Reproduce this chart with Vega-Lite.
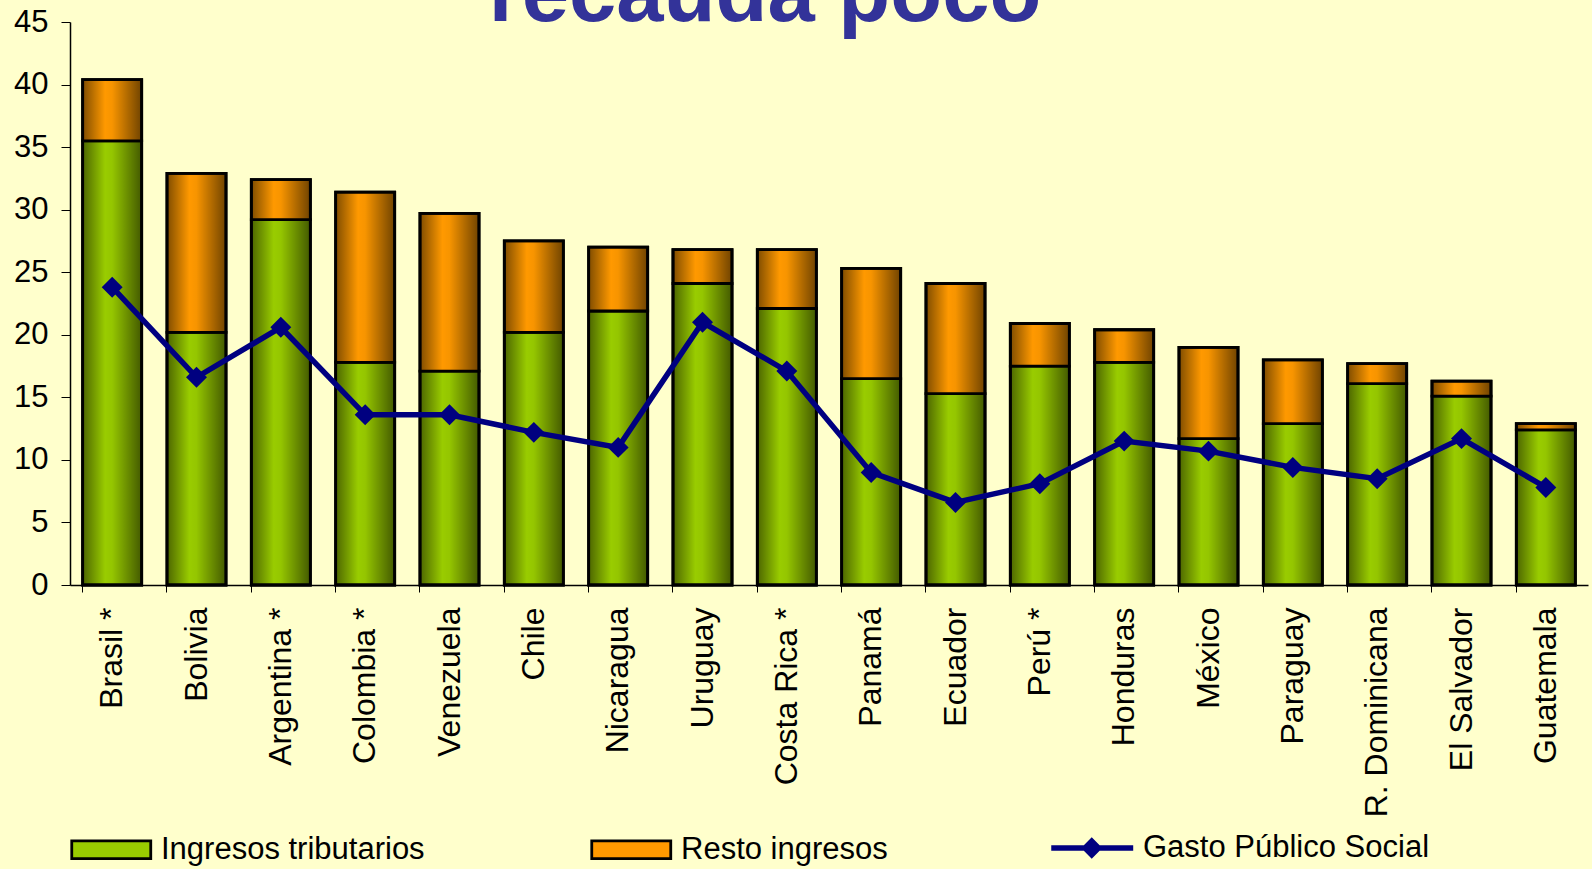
{
  "$schema": "https://vega.github.io/schema/vega-lite/v6.json",
  "width": 1518,
  "height": 563,
  "autosize": {"type": "none"},
  "padding": {"top": 22, "left": 70, "right": 4, "bottom": 284},
  "background": "#FFFFCC",
  "title": {
    "text": "recauda poco",
    "font": "Liberation Sans",
    "fontSize": 85,
    "fontWeight": "bold",
    "color": "#333399",
    "anchor": "middle",
    "frame": "group",
    "baseline": "alphabetic",
    "offset": 0,
    "dx": -64,
    "dy": 100
  },
  "config": {
    "view": {"stroke": null},
    "axis": {"labelFont": "Liberation Sans", "labelColor": "#000000", "grid": false, "title": null},
    "legend": {"labelFont": "Liberation Sans", "labelFontSize": 31, "labelColor": "#000000", "labelLimit": 0, "padding": 0}
  },
  "data": {
    "values": [
      {"pais": "Brasil *", "trib": 35.5, "total": 40.4, "gasto": 23.8},
      {"pais": "Bolivia", "trib": 20.2, "total": 32.9, "gasto": 16.6},
      {"pais": "Argentina *", "trib": 29.2, "total": 32.4, "gasto": 20.6},
      {"pais": "Colombia *", "trib": 17.8, "total": 31.4, "gasto": 13.6},
      {"pais": "Venezuela", "trib": 17.1, "total": 29.7, "gasto": 13.6},
      {"pais": "Chile", "trib": 20.2, "total": 27.5, "gasto": 12.2},
      {"pais": "Nicaragua", "trib": 21.9, "total": 27.0, "gasto": 11.0},
      {"pais": "Uruguay", "trib": 24.1, "total": 26.8, "gasto": 21.0},
      {"pais": "Costa Rica *", "trib": 22.1, "total": 26.8, "gasto": 17.1},
      {"pais": "Panamá", "trib": 16.5, "total": 25.3, "gasto": 9.0},
      {"pais": "Ecuador", "trib": 15.3, "total": 24.1, "gasto": 6.6},
      {"pais": "Perú *", "trib": 17.5, "total": 20.9, "gasto": 8.1},
      {"pais": "Honduras", "trib": 17.8, "total": 20.4, "gasto": 11.5},
      {"pais": "México", "trib": 11.7, "total": 19.0, "gasto": 10.7},
      {"pais": "Paraguay", "trib": 12.9, "total": 18.0, "gasto": 9.4},
      {"pais": "R. Dominicana", "trib": 16.1, "total": 17.7, "gasto": 8.5},
      {"pais": "El Salvador", "trib": 15.1, "total": 16.3, "gasto": 11.7},
      {"pais": "Guatemala", "trib": 12.4, "total": 12.9, "gasto": 7.8}
    ]
  },
  "encoding": {
    "x": {
      "field": "pais",
      "type": "nominal",
      "sort": null,
      "scale": {"paddingInner": 0.3, "paddingOuter": 0.15},
      "axis": {
        "labelAngle": -90,
        "labelFontSize": 32,
        "labelLimit": 0,
        "labelPadding": 15,
        "domainColor": "#000000",
        "domainWidth": 1.5,
        "tickColor": "#000000",
        "tickSize": 7,
        "bandPosition": 0,
        "labelOffset": 0
      }
    }
  },
  "layer": [
    {
      "layer": [
        {
          "mark": {"type": "bar", "stroke": "#000000", "strokeWidth": 2.8},
          "encoding": {
            "y": {
              "field": "trib",
              "type": "quantitative",
              "scale": {"domain": [0, 45], "nice": false},
              "axis": {
                "values": [0, 5, 10, 15, 20, 25, 30, 35, 40, 45],
                "labelFontSize": 31,
                "labelPadding": 13,
                "domainColor": "#000000",
                "domainWidth": 1.5,
                "tickColor": "#000000",
                "tickSize": 9
              }
            },
            "color": {
              "datum": "Ingresos tributarios",
              "type": "nominal",
              "scale": {"domain": ["Ingresos tributarios", "Resto ingresos"], "range": ["#99cc00", "#ff9900"]},
              "legend": {
                "orient": "none",
                "legendX": 0,
                "legendY": 806,
                "direction": "horizontal",
                "title": null,
                "symbolType": "M-1,-0.45H3V0.45H-1Z",
                "symbolSize": 1560,
                "symbolStrokeColor": "#000000",
                "symbolStrokeWidth": 2.8,
                "symbolOpacity": 1,
                "labelOffset": 48,
                "columnPadding": 161
              }
            }
          }
        },
        {
          "mark": {"type": "bar", "stroke": "#000000", "strokeWidth": 2.8},
          "encoding": {
            "y": {"field": "trib", "type": "quantitative"},
            "y2": {"field": "total"},
            "color": {"datum": "Resto ingresos", "type": "nominal"}
          }
        },
        {
          "mark": {
            "type": "bar",
            "stroke": "#000000",
            "strokeWidth": 2.8,
            "fill": {"gradient": "linear", "x1": 0, "y1": 0, "x2": 1, "y2": 0,
              "stops": [
                {"offset": 0, "color": "rgba(0,0,0,0.5)"},
                {"offset": 0.38, "color": "rgba(0,0,0,0)"},
                {"offset": 0.5, "color": "rgba(0,0,0,0.03)"},
                {"offset": 1, "color": "rgba(0,0,0,0.56)"}
              ]}
          },
          "encoding": {
            "y": {"field": "total", "type": "quantitative"}
          }
        }
      ]
    },
    {
      "mark": {
        "type": "line",
        "strokeWidth": 5.5,
        "point": {"shape": "diamond", "size": 440, "filled": true, "opacity": 1}
      },
      "encoding": {
        "y": {"field": "gasto", "type": "quantitative"},
        "color": {
          "datum": "Gasto Público Social",
          "type": "nominal",
          "scale": {"domain": ["Gasto Público Social"], "range": ["#000080"]},
          "legend": {
            "orient": "none",
            "legendX": 981,
            "legendY": 806,
            "direction": "horizontal",
            "title": null,
            "symbolType": "M-1,-0.14H0.65L1.05,-0.55L1.45,-0.14H3.15V0.14H1.45L1.05,0.55L0.65,0.14H-1Z",
            "symbolSize": 1560,
            "symbolFillColor": "#000080",
            "symbolStrokeWidth": 0,
            "symbolOpacity": 1,
            "labelOffset": 52
          }
        }
      }
    }
  ],
  "resolve": {"scale": {"color": "independent"}}
}
